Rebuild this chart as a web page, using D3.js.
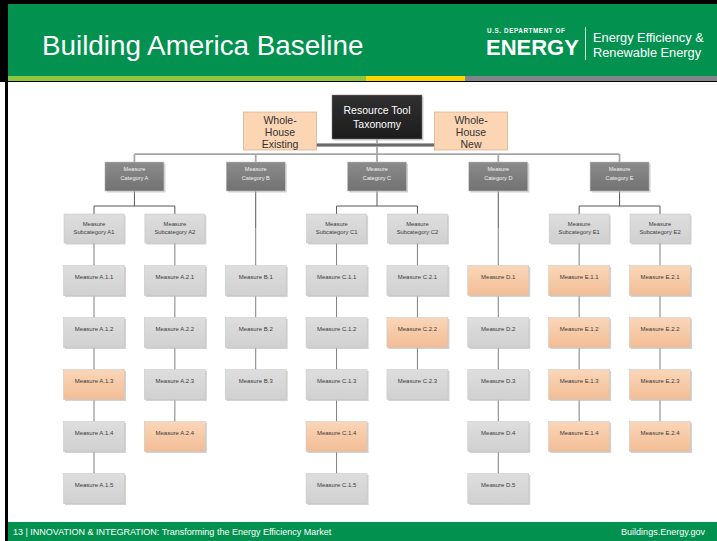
<!DOCTYPE html>
<html>
<head>
<meta charset="utf-8">
<script src="https://cdn.jsdelivr.net/npm/d3@7"></script>
<style>
	body { margin: 0; background: #fff; }
	svg { display: block; }
	text { font-family: "Liberation Sans", Arial, sans-serif; }
</style>
</head>
<body>
<svg id="slide" width="717" height="541"></svg>
<script>
	'use strict';

	// ---- data ----
	var title = 'Building America Baseline';
	var footerLeft = '13 | INNOVATION & INTEGRATION: Transforming the Energy Efficiency Market';
	var footerRight = 'Buildings.Energy.gov';

	var rootLabel = ['Resource Tool', 'Taxonomy'];
	var sideLabels = [['Whole-', 'House', 'Existing'], ['Whole-', 'House', 'New']];
	var categories = ['Category A', 'Category B', 'Category C', 'Category D', 'Category E'];
	var subcategories = [
		['Subcategory A1', 'Subcategory A2'],
		[null],
		['Subcategory C1', 'Subcategory C2'],
		[null],
		['Subcategory E1', 'Subcategory E2']
	];
	var measuresA = [
		['Measure A.1.1', 'Measure A.1.2', 'Measure A.1.3', 'Measure A.1.4', 'Measure A.1.5'],
		['Measure A.2.1', 'Measure A.2.2', 'Measure A.2.3', 'Measure A.2.4']
	];
	var measuresB = [['Measure B.1', 'Measure B.2', 'Measure B.3']];
	var measuresC = [
		['Measure C.1.1', 'Measure C.1.2', 'Measure C.1.3', 'Measure C.1.4', 'Measure C.1.5'],
		['Measure C.2.1', 'Measure C.2.2', 'Measure C.2.3']
	];
	var measuresD = [['Measure D.1', 'Measure D.2', 'Measure D.3', 'Measure D.4', 'Measure D.5']];
	var measuresE = [
		['Measure E.1.1', 'Measure E.1.2', 'Measure E.1.3', 'Measure E.1.4'],
		['Measure E.2.1', 'Measure E.2.2', 'Measure E.2.3', 'Measure E.2.4']
	];
	var highlighted = ['Measure A.1.3', 'Measure A.2.4', 'Measure C.1.4', 'Measure C.2.2', 'Measure D.1',
		'Measure E.1.1', 'Measure E.1.2', 'Measure E.1.3', 'Measure E.1.4',
		'Measure E.2.1', 'Measure E.2.2', 'Measure E.2.3', 'Measure E.2.4'];

	// ---- frame ----
	var svg = d3.select('#slide');
	var defs = svg.append('defs');

	function grad(id, c1, c2) {
		var g = defs.append('linearGradient').attr('id', id).attr('x1', 0).attr('y1', 0).attr('x2', 0).attr('y2', 1);
		g.append('stop').attr('offset', '0%').attr('stop-color', c1);
		g.append('stop').attr('offset', '100%').attr('stop-color', c2);
	}
	grad('gGray', '#dedede', '#d0d0d0');
	grad('gPeach', '#fad6b9', '#f3bd95');
	grad('gCat', '#8b8b8b', '#727272');
	grad('gRoot', '#303030', '#1c1c1c');

	var green = '#02914f';
	svg.append('rect').attr('x', 0).attr('y', 0).attr('width', 717).attr('height', 82).attr('fill', '#000');
	svg.append('rect').attr('x', 5).attr('y', 0).attr('width', 3).attr('height', 541).attr('fill', '#000');
	svg.append('rect').attr('x', 8).attr('y', 4).attr('width', 709).attr('height', 72).attr('fill', green);
	var stripe = [['#8dc63f', 8, 366], ['#ffd500', 366, 465], ['#7f868c', 465, 717]];
	svg.selectAll('rect.stripe').data(stripe).enter().append('rect')
		.attr('class', 'stripe')
		.attr('x', function (d) { return d[1]; })
		.attr('y', 76)
		.attr('width', function (d) { return d[2] - d[1]; })
		.attr('height', 5)
		.attr('fill', function (d) { return d[0]; });

	svg.append('text').attr('x', 42).attr('y', 55).attr('fill', '#fff')
		.style('font-size', '27.8px').text(title);

	var logo = svg.append('g').attr('fill', '#fff');
	logo.append('text').attr('x', 487).attr('y', 32.5).style('font-size', '6.3px').style('font-weight', 'bold')
		.style('letter-spacing', '0.6px').text('U.S. DEPARTMENT OF');
	logo.append('text').attr('x', 486).attr('y', 54.5).style('font-size', '22px').style('font-weight', 'bold')
		.text('ENERGY');
	svg.append('line').attr('x1', 585.5).attr('x2', 585.5).attr('y1', 27).attr('y2', 60)
		.attr('stroke', '#fff').attr('stroke-opacity', 0.8).attr('stroke-width', 1);
	logo.append('text').attr('x', 593).attr('y', 42).style('font-size', '12.8px').text('Energy Efficiency &');
	logo.append('text').attr('x', 593).attr('y', 56.5).style('font-size', '12.8px').text('Renewable Energy');

	svg.append('rect').attr('x', 8).attr('y', 522).attr('width', 709).attr('height', 19).attr('fill', green);
	svg.append('text').attr('x', 13).attr('y', 535).attr('fill', '#fff').style('font-size', '9px').text(footerLeft);
	svg.append('text').attr('x', 705).attr('y', 535).attr('fill', '#fff').attr('text-anchor', 'end')
		.style('font-size', '9px').text(footerRight);

	// ---- hierarchy ----
	var measureLists = [measuresA, measuresB, measuresC, measuresD, measuresE];

	function chain(list, i) {
		var node = {name: list[i], kind: 'measure'};
		if (i + 1 < list.length) {
			node.children = [chain(list, i + 1)];
		}
		return node;
	}

	var data = {
		name: rootLabel.join(' '), kind: 'root',
		children: categories.map(function (cat, ci) {
			return {
				name: cat, kind: 'category',
				children: subcategories[ci].map(function (sub, si) {
					// B and D have no subcategory: a hidden pass-through node keeps the rows aligned
					return {name: sub, kind: sub ? 'subcategory' : 'pass', children: [chain(measureLists[ci][si], 0)]};
				})
			};
		})
	};

	var root = d3.hierarchy(data);
	d3.tree().nodeSize([1, 1]).separation(function (a, b) {
		return a.parent === b.parent ? 1 : 1.1;
	})(root);

	var nodes = root.descendants();
	var x = d3.scaleLinear().domain(d3.extent(nodes, function (d) { return d.x; })).range([94, 660]);
	var y = d3.scaleLinear().domain([0, 1, 7]).range([117, 176.5, 488.5]);

	var boxSize = {
		root: [90, 44],
		category: [59, 29],
		subcategory: [60, 29],
		measure: [61, 30],
		pass: [0, 0]
	};
	function cx(d) { return x(d.x); }
	function cy(d) { return y(d.depth); }
	function boxTop(d) { return cy(d) - boxSize[d.data.kind][1] / 2; }
	function boxBottom(d) { return cy(d) + boxSize[d.data.kind][1] / 2; }

	// ---- links ----
	var linkStyle = {
		root: ['#a6a6a6', 1.75],
		category: ['#595959', 1],
		subcategory: ['#7f7f7f', 1],
		pass: ['#7f7f7f', 1],
		measure: ['#7f7f7f', 1]
	};
	var links = svg.append('g').attr('fill', 'none');
	nodes.filter(function (d) { return d.children; }).forEach(function (p) {
		var kids = p.children;
		var path = d3.path();
		if (kids.length > 1) {
			var busY = boxTop(kids[0]) - 8;
			var ext = d3.extent(kids, cx);
			path.moveTo(cx(p), boxBottom(p));
			path.lineTo(cx(p), busY);
			path.moveTo(ext[0], busY);
			path.lineTo(ext[1], busY);
			kids.forEach(function (k) {
				path.moveTo(cx(k), busY);
				path.lineTo(cx(k), boxTop(k));
			});
		} else {
			path.moveTo(cx(p), boxBottom(p));
			path.lineTo(cx(kids[0]), boxTop(kids[0]));
		}
		links.append('path').attr('d', path.toString())
			.attr('stroke', linkStyle[p.data.kind][0])
			.attr('stroke-width', linkStyle[p.data.kind][1]);
	});

	// ---- side boxes (Whole-House) ----
	var sideW = 73, sideH = 38, sideOffset = [-97, 94];
	var sideY = y(0) + 14;
	var barY = sideY + sideH / 2 - 5;
	[['#a6a6a6', 4], ['#6a6a6a', 2]].forEach(function (s) {
		svg.append('line')
			.attr('x1', cx(root) + sideOffset[0] + sideW / 2).attr('x2', cx(root) + sideOffset[1] - sideW / 2)
			.attr('y1', barY).attr('y2', barY)
			.attr('stroke', s[0]).attr('stroke-width', s[1]);
	});

	var side = svg.selectAll('g.side').data(sideLabels).enter().append('g')
		.attr('class', 'side')
		.attr('transform', function (d, i) {
			return 'translate(' + (cx(root) + sideOffset[i]) + ',' + sideY + ')';
		});
	side.append('rect')
		.attr('x', -sideW / 2).attr('y', -sideH / 2).attr('width', sideW).attr('height', sideH)
		.attr('fill', '#fcd5b4').attr('stroke', '#d4b08f').attr('stroke-width', 0.75);
	side.selectAll('text').data(function (d) { return d; }).enter().append('text')
		.attr('text-anchor', 'middle')
		.attr('y', function (d, i) { return -7 + i * 12; })
		.attr('fill', '#333')
		.style('font-size', '10.5px')
		.text(function (d) { return d; });

	// ---- boxes ----
	var boxes = svg.selectAll('g.node').data(nodes.filter(function (d) { return d.data.kind !== 'pass'; }))
		.enter().append('g')
		.attr('class', 'node')
		.attr('transform', function (d) { return 'translate(' + cx(d) + ',' + cy(d) + ')'; });

	function fillOf(d) {
		if (d.data.kind === 'root') { return 'url(#gRoot)'; }
		if (d.data.kind === 'category') { return 'url(#gCat)'; }
		return highlighted.indexOf(d.data.name) >= 0 ? 'url(#gPeach)' : 'url(#gGray)';
	}

	boxes.append('rect')
		.attr('x', function (d) { return -boxSize[d.data.kind][0] / 2 + 1.5; })
		.attr('y', function (d) { return -boxSize[d.data.kind][1] / 2 + 1.5; })
		.attr('width', function (d) { return boxSize[d.data.kind][0]; })
		.attr('height', function (d) { return boxSize[d.data.kind][1]; })
		.attr('fill', '#b5b5b5').attr('opacity', 0.6);
	boxes.append('rect')
		.attr('x', function (d) { return -boxSize[d.data.kind][0] / 2; })
		.attr('y', function (d) { return -boxSize[d.data.kind][1] / 2; })
		.attr('width', function (d) { return boxSize[d.data.kind][0]; })
		.attr('height', function (d) { return boxSize[d.data.kind][1]; })
		.attr('fill', fillOf)
		.attr('stroke', function (d) { return d.data.kind === 'root' ? '#7f7f7f' : '#c4c4c4'; })
		.attr('stroke-width', 0.5);

	var textSpec = {
		root: {size: 10.5, color: '#fff', lines: function () { return rootLabel; }, dy: [-3, 11]},
		category: {size: 5.6, color: '#f2f2f2', lines: function (d) { return ['Measure', d.name]; }, dy: [-5.5, 3.5]},
		subcategory: {size: 5.8, color: '#3a3a3a', lines: function (d) { return ['Measure', d.name]; }, dy: [-2.5, 5.5]},
		measure: {size: 6, color: '#3a3a3a', lines: function (d) { return [d.name]; }, dy: [-2]}
	};
	boxes.each(function (d) {
		var spec = textSpec[d.data.kind];
		d3.select(this).selectAll('text').data(spec.lines(d.data)).enter().append('text')
			.attr('text-anchor', 'middle')
			.attr('y', function (t, i) { return spec.dy[i]; })
			.attr('fill', spec.color)
			.style('font-size', spec.size + 'px')
			.text(function (t) { return t; });
	});
</script>
</body>
</html>
